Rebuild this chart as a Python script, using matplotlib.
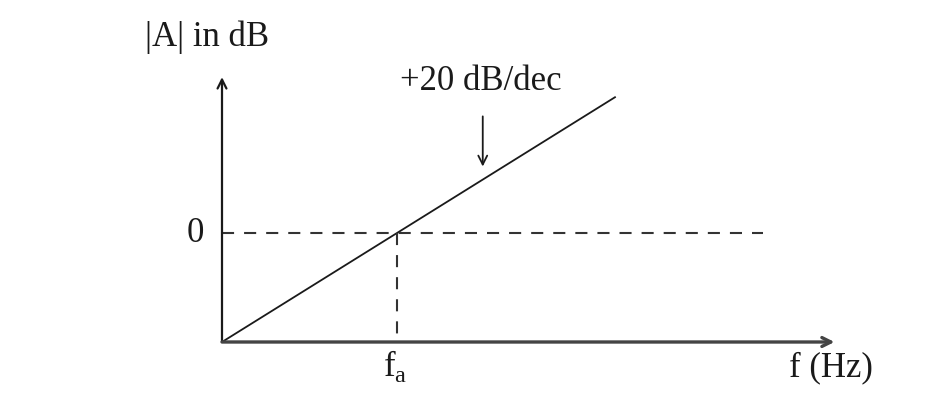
# Bode magnitude sketch: +20 dB/dec asymptote crossing 0 dB at fa.
import matplotlib
matplotlib.use("Agg")
from matplotlib import pyplot as plt

# Data: x in decades relative to the origin, y in dB.
freq_dec = [0.0, 1.0, 2.25]      # origin, fa, end of line
gain_db = [-20.0, 0.0, 25.0]     # +20 dB per decade
fa_dec = 1.0
zero_db = 0.0
x_axis_end = 3.5
y_axis_top = 28.6
dash_end = 3.09
y_floor = -20.0

plt.rcParams['font.family'] = ['Liberation Serif', 'DejaVu Serif']
plt.rcParams['mathtext.fontset'] = 'custom'
plt.rcParams['mathtext.rm'] = 'Liberation Serif'

fig = plt.figure(figsize=(9.45, 4.08), dpi=100)
ax = fig.add_axes([0, 0, 1, 1])
# map data onto the picture: x=0 -> 222 px, x=1 -> 397 px; y=-20 -> 342 px, y=0 -> 233 px
ax.set_xlim(-222 / 175, (945 - 222) / 175)
ax.set_ylim(-(408 - 233) / 109 * 20, 233 / 109 * 20)
ax.axis('off')

ink = '#1a1a1a'

# Axes with arrows.
ax.annotate('', xy=(0, y_axis_top), xytext=(0, y_floor),
            arrowprops=dict(arrowstyle='->', color=ink, lw=1.6,
                            mutation_scale=16, shrinkA=0, shrinkB=0))
ax.annotate('', xy=(x_axis_end, y_floor), xytext=(0, y_floor),
            arrowprops=dict(arrowstyle='->', color='#444444', lw=2.4,
                            mutation_scale=16, shrinkA=0, shrinkB=0))

# Asymptote line.
ax.plot(freq_dec, gain_db, color=ink, lw=1.3, solid_capstyle='butt')

# Dashed guides.
dash = (0, (5.8, 4.8))
ax.plot([0, dash_end], [zero_db, zero_db], color='#333333', lw=1.5, linestyle=dash)
ax.plot([fa_dec, fa_dec], [zero_db, y_floor], color='#333333', lw=1.5, linestyle=dash)

# Labels.
ax.text(-0.44, 36.0, '|A| in dB', fontsize=25, color=ink, ha='left', va='center')
ax.text(-0.15, zero_db, '0', fontsize=25, color=ink, ha='center', va='center')
ax.text(fa_dec - 0.01, -24.4, 'f$_\\mathrm{a}$', fontsize=25, color=ink,
        ha='center', va='center')
ax.text(3.48, -24.8, 'f (Hz)', fontsize=25, color=ink, ha='center', va='center')
ax.text(1.48, 27.8, '+20 dB/dec', fontsize=25, color=ink, ha='center', va='center')

# Pointer to the slope.
ax.annotate('', xy=(1.49, 12.2), xytext=(1.49, 21.4),
            arrowprops=dict(arrowstyle='->', color=ink, lw=1.3,
                            mutation_scale=16, shrinkA=0, shrinkB=0))

fig.savefig('out.png', dpi=100)
